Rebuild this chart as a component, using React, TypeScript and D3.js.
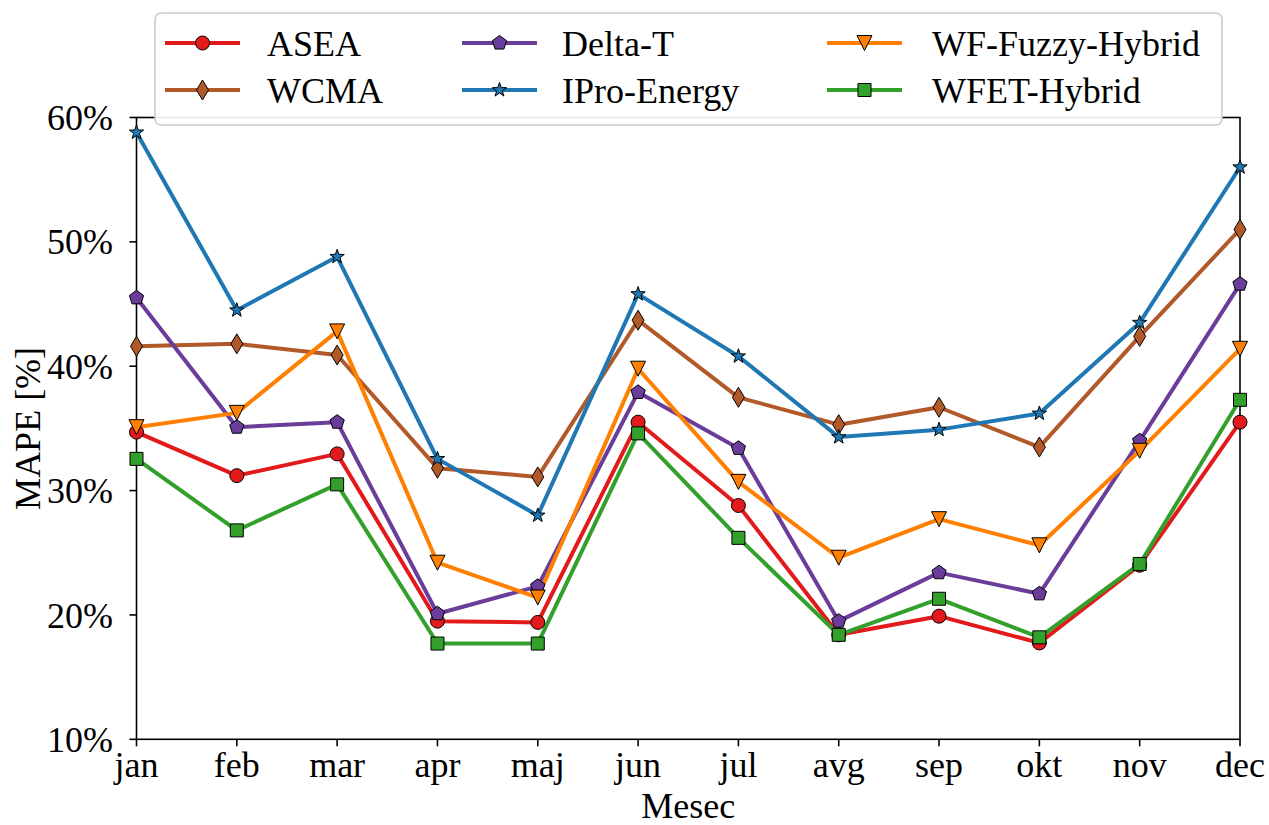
import React from 'react';
import * as d3 from 'd3';

const months = ['jan', 'feb', 'mar', 'apr', 'maj', 'jun', 'jul', 'avg', 'sep', 'okt', 'nov', 'dec'];
const yTicks = [10, 20, 30, 40, 50, 60];

const asea = [34.7, 31.2, 32.95, 19.5, 19.4, 35.5, 28.8, 18.4, 19.9, 17.75, 24.0, 35.5];
const wcma = [41.6, 41.8, 40.9, 31.8, 31.1, 43.7, 37.5, 35.3, 36.7, 33.5, 42.4, 51.0];
const deltaT = [45.5, 35.1, 35.5, 20.1, 22.3, 37.9, 33.4, 19.5, 23.4, 21.7, 34.0, 46.6];
const iproEnergy = [58.8, 44.5, 48.8, 32.55, 28.0, 45.8, 40.8, 34.3, 34.9, 36.2, 43.5, 56.0];
const wfFuzzy = [35.1, 36.25, 42.8, 24.2, 21.4, 39.8, 30.7, 24.6, 27.7, 25.6, 33.2, 41.4];
const wfet = [32.55, 26.8, 30.5, 17.7, 17.7, 34.6, 26.2, 18.4, 21.3, 18.2, 24.1, 37.3];

type Shape = 'circle' | 'diamond' | 'pentagon' | 'star' | 'tridown' | 'square';

const series: { name: string; values: number[]; color: string; shape: Shape }[] = [
  { name: 'ASEA', values: asea, color: '#e31a1c', shape: 'circle' },
  { name: 'WCMA', values: wcma, color: '#b15928', shape: 'diamond' },
  { name: 'Delta-T', values: deltaT, color: '#6a3d9a', shape: 'pentagon' },
  { name: 'IPro-Energy', values: iproEnergy, color: '#1f78b4', shape: 'star' },
  { name: 'WF-Fuzzy-Hybrid', values: wfFuzzy, color: '#ff7f00', shape: 'tridown' },
  { name: 'WFET-Hybrid', values: wfet, color: '#33a02c', shape: 'square' },
];

function markerPath(shape: Shape): string {
  if (shape === 'circle') {
    const r = 7;
    return `M${r},0A${r},${r} 0 1,1 ${-r},0A${r},${r} 0 1,1 ${r},0Z`;
  }
  if (shape === 'square') {
    const s = 6.5;
    return `M${-s},${-s}L${s},${-s}L${s},${s}L${-s},${s}Z`;
  }
  if (shape === 'diamond') {
    return `M0,-10L6,0L0,10L-6,0Z`;
  }
  if (shape === 'tridown') {
    const r = 7.5;
    return `M${-r},${-r}L${r},${-r}L0,${r}Z`;
  }
  if (shape === 'pentagon') {
    const r = 7.5;
    const pts = d3.range(5).map((i) => {
      const a = -Math.PI / 2 + (i * 2 * Math.PI) / 5;
      return [r * Math.cos(a), r * Math.sin(a)];
    });
    return 'M' + pts.map((p) => p.join(',')).join('L') + 'Z';
  }
  // star
  const ro = 7.5;
  const ri = 3.0;
  const pts = d3.range(10).map((i) => {
    const a = -Math.PI / 2 + (i * Math.PI) / 5;
    const r = i % 2 === 0 ? ro : ri;
    return [r * Math.cos(a), r * Math.sin(a)];
  });
  return 'M' + pts.map((p) => p.join(',')).join('L') + 'Z';
}

const W = 1269;
const H = 825;
const left = 136.5;
const right = 1240;
const top = 117.5;
const bottom = 739.3;
const font = '"Liberation Serif", "Times New Roman", serif';
const fs = 36;

export default function App() {
  const x = d3.scalePoint<string>().domain(months).range([left, right]);
  const y = d3.scaleLinear().domain([10, 60]).range([bottom, top]);
  const line = d3
    .line<number>()
    .x((_, i) => x(months[i]) as number)
    .y((d) => y(d));

  const legendCols = [
    { lx: 165, tx: 267 },
    { lx: 462, tx: 562 },
    { lx: 827, tx: 932 },
  ];
  const legendRows = [43, 90];

  return (
    <svg
      width={W}
      height={H}
      style={{ position: 'absolute', left: 0, top: 0, background: '#fff' }}
      fontFamily={font}
    >
      <rect x={0} y={0} width={W} height={H} fill="#fff" />
      {/* axes spines */}
      <rect x={left} y={top} width={right - left} height={bottom - top} fill="none" stroke="#000" strokeWidth={1.6} />
      {/* y ticks */}
      {yTicks.map((t) => (
        <g key={t}>
          <line x1={left - 7} x2={left} y1={y(t)} y2={y(t)} stroke="#000" strokeWidth={1.6} />
          <text x={left - 23.5} y={y(t)} dy="0.35em" textAnchor="end" fontSize={fs}>
            {t}%
          </text>
        </g>
      ))}
      {/* x ticks */}
      {months.map((m) => (
        <g key={m}>
          <line x1={x(m)} x2={x(m)} y1={bottom} y2={bottom + 7} stroke="#000" strokeWidth={1.6} />
          <text x={x(m)} y={bottom + 38} textAnchor="middle" fontSize={fs}>
            {m}
          </text>
        </g>
      ))}
      <text x={(left + right) / 2} y={818} textAnchor="middle" fontSize={fs}>
        Mesec
      </text>
      <text
        transform={`translate(40, ${(top + bottom) / 2}) rotate(-90)`}
        textAnchor="middle"
        fontSize={fs}
      >
        MAPE [%]
      </text>
      {/* series */}
      <g>
        {series.map((s) => (
          <g key={s.name}>
            <path d={line(s.values) || ''} fill="none" stroke={s.color} strokeWidth={4} strokeLinejoin="round" />
          </g>
        ))}
        {series.map((s) => (
          <g key={s.name + '-m'}>
            {s.values.map((v, i) => (
              <path
                key={i}
                d={markerPath(s.shape)}
                transform={`translate(${x(months[i])},${y(v)})`}
                fill={s.color}
                stroke="#000"
                strokeWidth={1}
              />
            ))}
          </g>
        ))}
      </g>
      {/* legend */}
      <rect x={155} y={13} width={1067} height={112} rx={6} ry={6} fill="#fff" fillOpacity={0.9} stroke="#cccccc" strokeWidth={1.6} />
      {series.map((s, i) => {
        const col = legendCols[Math.floor(i / 2)];
        const ry = legendRows[i % 2];
        return (
          <g key={s.name + '-leg'}>
            <line x1={col.lx} x2={col.lx + 75} y1={ry} y2={ry} stroke={s.color} strokeWidth={4} />
            <path
              d={markerPath(s.shape)}
              transform={`translate(${col.lx + 37.5},${ry})`}
              fill={s.color}
              stroke="#000"
              strokeWidth={1}
            />
            <text x={col.tx} y={ry} dy="0.35em" fontSize={fs}>
              {s.name}
            </text>
          </g>
        );
      })}
    </svg>
  );
}
